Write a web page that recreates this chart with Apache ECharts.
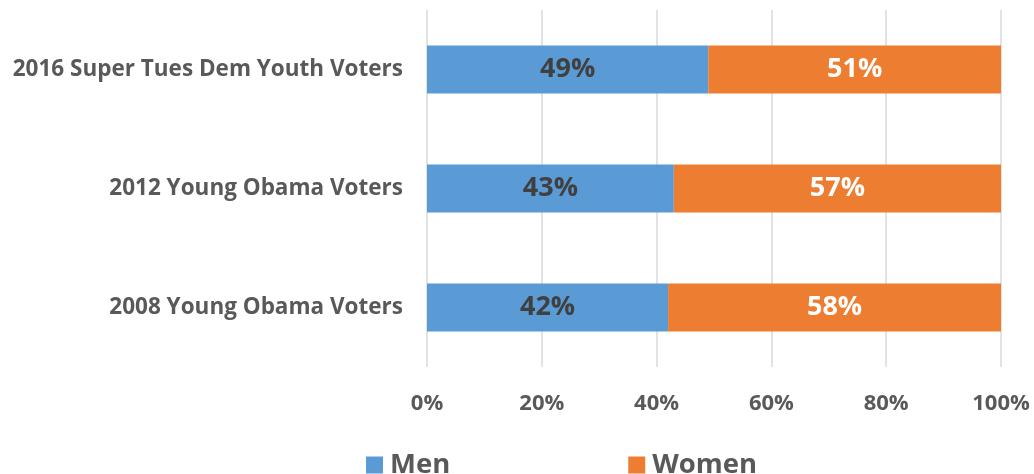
<!DOCTYPE html>
<html>
<head>
<meta charset="utf-8">
<script src="https://cdn.jsdelivr.net/npm/echarts@6/dist/echarts.min.js"></script>
<style>
  html, body { margin: 0; padding: 0; background: #fff; }
  #chart { width: 1034px; height: 474px; }
</style>
</head>
<body>
<div id="chart"></div>
<script>
// categories from bottom to top
var categories = ['2008 Young Obama Voters', '2012 Young Obama Voters', '2016 Super Tues Dem Youth Voters'];
var men = [42, 43, 49];
var women = [58, 57, 51];
var tickLabels = ['0%', '20%', '40%', '60%', '80%', '100%'];

var font = '"Open Sans", "DejaVu Sans", sans-serif';
var chart = echarts.init(document.getElementById('chart'));

chart.setOption({
  animation: false,
  textStyle: { fontFamily: font },
  grid: { left: 427, right: 33, top: 10, bottom: 107 },
  legend: {
    left: 361,
    top: 446,
    itemWidth: 17,
    itemHeight: 17,
    itemGap: 178,
    icon: 'rect',
    data: ['Men', 'Women'],
    textStyle: { fontSize: 27.5, fontWeight: 'bold', color: '#595959', fontFamily: font, padding: [0, 0, 0, 2] }
  },
  xAxis: {
    type: 'value',
    min: 0,
    max: 100,
    interval: 20,
    axisLine: { show: false },
    axisTick: { show: false },
    splitLine: { lineStyle: { color: '#d9d9d9', width: 1.5 } },
    axisLabel: {
      margin: 26,
      fontSize: 22,
      fontWeight: 'bold',
      color: '#595959',
      formatter: function (v) { return tickLabels[v / 20]; }
    }
  },
  yAxis: {
    type: 'category',
    data: categories,
    axisLine: { show: false },
    axisTick: { show: false },
    axisLabel: { margin: 24, fontSize: 22.5, fontWeight: 'bold', color: '#595959' }
  },
  series: [
    {
      name: 'Men',
      type: 'bar',
      stack: 'total',
      barWidth: 48,
      data: men,
      itemStyle: { color: '#5b9bd5' },
      label: {
        show: true,
        position: 'inside',
        formatter: '{c}%',
        fontSize: 27,
        fontWeight: 'bold',
        color: '#404040'
      }
    },
    {
      name: 'Women',
      type: 'bar',
      stack: 'total',
      barWidth: 48,
      data: women,
      itemStyle: { color: '#ed7d31' },
      label: {
        show: true,
        position: 'inside',
        formatter: '{c}%',
        fontSize: 27,
        fontWeight: 'bold',
        color: '#ffffff'
      }
    }
  ]
});
</script>
</body>
</html>
